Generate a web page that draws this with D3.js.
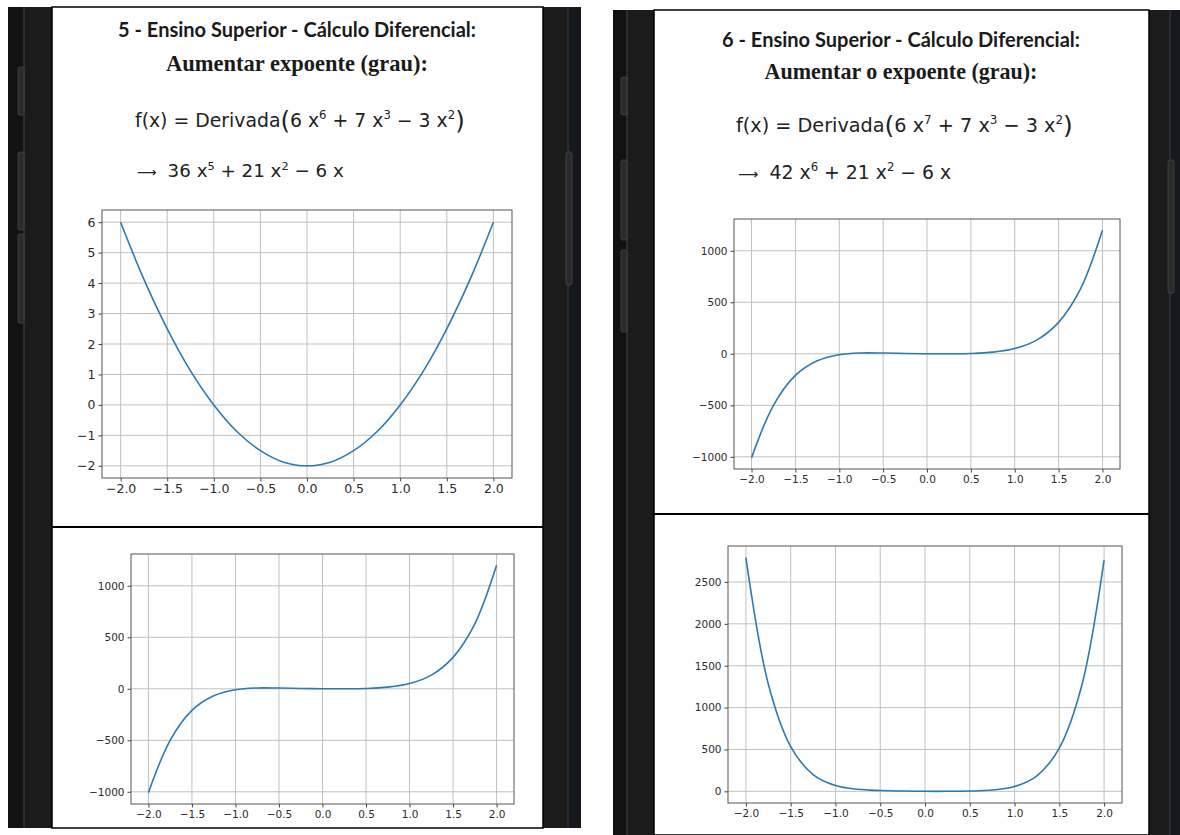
<!DOCTYPE html>
<html>
<head>
<meta charset="utf-8">
<script src="https://cdn.jsdelivr.net/npm/d3@7"></script>
<style>
  body { margin: 0; background: #fff; }
  svg { display: block; }
</style>
</head>
<body>
<svg id="tela" width="1180" height="835"></svg>
<script>
// valores
const xValues = [-2, -1.75, -1.5, -1.25, -1, -0.75, -0.5, -0.25, 0, 0.25, 0.5, 0.75, 1, 1.25, 1.5, 1.75, 2];
const xTicks = [-2, -1.5, -1, -0.5, 0, 0.5, 1, 1.5, 2];

const serieParabola = [6, 4.12, 2.5, 1.12, 0, -0.88, -1.5, -1.88, -2, -1.88, -1.5, -0.88, 0, 1.12, 2.5, 4.12, 6];
const serieGrau5 = [-1008, -500, -210, -68, -9, 8, 7, 3, 0, 0, 3, 16, 51, 133, 305, 630, 1198];
const serieGrau6 = [2790, 1281, 535, 200, 69, 24, 9, 3, 0, 0, 3, 15, 57, 185, 517, 1260, 2760];

const ticksParabola = [-2, -1, 0, 1, 2, 3, 4, 5, 6];
const ticksGrau5 = [-1000, -500, 0, 500, 1000];
const ticksGrau6 = [0, 500, 1000, 1500, 2000, 2500];

const titulos = ['5 - Ensino Superior - Cálculo Diferencial:', '6 - Ensino Superior - Cálculo Diferencial:'];
const subtitulos = ['Aumentar expoente (grau):', 'Aumentar o expoente (grau):'];
const expoenteEntrada = ['6', '7'];
const coefSaida = ['36', '42'];
const expoenteSaida = ['5', '6'];

const svg = d3.select('#tela');

// ---- aparelhos (moldura escura) ----
function drawPhone(o) {
  const g = svg.append('g');
  g.append('rect').attr('x', o.x0).attr('y', o.y0).attr('width', o.x1 - o.x0).attr('height', o.y1 - o.y0).attr('fill', '#1c1b1b');
  g.append('rect').attr('x', o.x0).attr('y', o.y0).attr('width', o.lineL - o.x0).attr('height', o.y1 - o.y0).attr('fill', '#121212');
  g.append('line').attr('x1', o.lineL).attr('x2', o.lineL).attr('y1', o.y0).attr('y2', o.y1).attr('stroke', '#3a3d42').attr('stroke-width', 1.2);
  g.append('rect').attr('x', o.lineR).attr('y', o.y0).attr('width', o.x1 - o.lineR).attr('height', o.y1 - o.y0).attr('fill', '#15191e');
  g.append('line').attr('x1', o.lineR).attr('x2', o.lineR).attr('y1', o.y0).attr('y2', o.y1).attr('stroke', '#34383e').attr('stroke-width', 1.2);
  o.botoesL.forEach(b => {
    g.append('rect').attr('x', o.lineL - 6).attr('y', b[0]).attr('width', 6).attr('height', b[1] - b[0])
      .attr('rx', 2).attr('fill', '#2a2a2b').attr('stroke', '#45474a').attr('stroke-width', 0.8);
  });
  o.botoesR.forEach(b => {
    g.append('rect').attr('x', o.lineR - 2).attr('y', b[0]).attr('width', 6).attr('height', b[1] - b[0])
      .attr('rx', 2).attr('fill', '#2a2a2b').attr('stroke', '#45474a').attr('stroke-width', 0.8);
  });
  g.append('rect').attr('x', o.sx0).attr('y', o.y0).attr('width', o.sx1 - o.sx0).attr('height', o.y1 - o.y0)
    .attr('fill', '#fff').attr('stroke', '#000').attr('stroke-width', 1.5);
  g.append('line').attr('x1', o.sx0).attr('x2', o.sx1).attr('y1', o.divY).attr('y2', o.divY)
    .attr('stroke', '#000').attr('stroke-width', 2.2);
}

drawPhone({ x0: 8, x1: 581, y0: 7, y1: 828, sx0: 52, sx1: 543, lineL: 24, lineR: 568, divY: 527,
  botoesL: [[67, 115], [152, 230], [234, 323]], botoesR: [[152, 285]] });
drawPhone({ x0: 613, x1: 1180, y0: 10, y1: 835, sx0: 654, sx1: 1149, lineL: 627, lineR: 1170, divY: 514,
  botoesL: [[77, 115], [160, 240], [250, 332]], botoesR: [[160, 293]] });

// ---- cabeçalhos ----
function fitWidth(sel, width) {
  const fs = parseFloat(sel.attr('font-size'));
  const w = sel.node().getComputedTextLength();
  sel.attr('font-size', fs * width / w);
}

function header(i, cx, left, ys, widths) {
  const t1 = svg.append('text').attr('x', cx).attr('y', ys[0]).attr('text-anchor', 'middle')
    .attr('font-family', 'Lato, "Open Sans", sans-serif').attr('font-weight', 700)
    .attr('font-size', 16).attr('fill', '#1a1a1a').text(titulos[i]);
  fitWidth(t1, widths[0]);

  const t2 = svg.append('text').attr('x', cx).attr('y', ys[1]).attr('text-anchor', 'middle')
    .attr('font-family', '"Liberation Serif", "DejaVu Serif", serif').attr('font-weight', 700)
    .attr('font-size', 22).attr('fill', '#1a1a1a').text(subtitulos[i]);
  fitWidth(t2, widths[1]);

  const t3 = svg.append('text').attr('x', left).attr('y', ys[2])
    .attr('font-family', '"DejaVu Sans", sans-serif').attr('font-size', 19).attr('fill', '#222');
  t3.append('tspan').text('f(x) = Derivada');
  t3.append('tspan').attr('font-size', '1.3em').attr('dy', '0.08em').text('(');
  t3.append('tspan').attr('dy', '-0.1em').text('6 x');
  t3.append('tspan').attr('font-size', '0.62em').attr('dy', '-0.65em').text(expoenteEntrada[i]);
  t3.append('tspan').attr('dy', '0.4em').text(' + 7 x');
  t3.append('tspan').attr('font-size', '0.62em').attr('dy', '-0.65em').text('3');
  t3.append('tspan').attr('dy', '0.4em').text(' − 3 x');
  t3.append('tspan').attr('font-size', '0.62em').attr('dy', '-0.65em').text('2');
  t3.append('tspan').attr('font-size', '1.3em').attr('dy', '0.4em').text(')');
  fitWidth(t3, widths[2]);

  const t4 = svg.append('text').attr('x', left + 2).attr('y', ys[3])
    .attr('font-family', '"DejaVu Sans", sans-serif').attr('font-size', 19).attr('fill', '#222');
  t4.append('tspan').attr('font-size', '0.75em').text('⟶');
  t4.append('tspan').attr('dx', '0.6em').text(coefSaida[i] + ' x');
  t4.append('tspan').attr('font-size', '0.62em').attr('dy', '-0.65em').text(expoenteSaida[i]);
  t4.append('tspan').attr('dy', '0.4em').text(' + 21 x');
  t4.append('tspan').attr('font-size', '0.62em').attr('dy', '-0.65em').text('2');
  t4.append('tspan').attr('dy', '0.4em').text(' − 6 x');
  fitWidth(t4, widths[3]);
}

header(0, 297, 135, [37, 71, 127, 177], [358, 262, 330, 196]);
header(1, 901, 736, [47, 79, 132, 179], [358, 273, 337, 202]);

// ---- gráficos ----
function drawChart(box, serie, yTicks, fontSize) {
  const [x0, y0, x1, y1] = box;
  const g = svg.append('g');
  const xExt = d3.extent(xValues), xPad = (xExt[1] - xExt[0]) * 0.05;
  const yExt = d3.extent(serie), yPad = (yExt[1] - yExt[0]) * 0.05;
  const x = d3.scaleLinear().domain([xExt[0] - xPad, xExt[1] + xPad]).range([x0, x1]);
  const y = d3.scaleLinear().domain([yExt[0] - yPad, yExt[1] + yPad]).range([y1, y0]);

  g.selectAll('.gx').data(xTicks).enter().append('line')
    .attr('x1', d => x(d)).attr('x2', d => x(d)).attr('y1', y0).attr('y2', y1)
    .attr('stroke', '#c0c0c0').attr('stroke-width', 1);
  g.selectAll('.gy').data(yTicks).enter().append('line')
    .attr('x1', x0).attr('x2', x1).attr('y1', d => y(d)).attr('y2', d => y(d))
    .attr('stroke', '#c0c0c0').attr('stroke-width', 1);

  const ax = g.append('g').attr('transform', `translate(0,${y1})`)
    .call(d3.axisBottom(x).tickValues(xTicks).tickSize(3.5).tickPadding(3).tickFormat(d3.format('.1f')));
  const ay = g.append('g').attr('transform', `translate(${x0},0)`)
    .call(d3.axisLeft(y).tickValues(yTicks).tickSize(3.5).tickPadding(3).tickFormat(d3.format('d')));
  [ax, ay].forEach(a => {
    a.select('.domain').remove();
    a.selectAll('line').attr('stroke', '#444');
    a.selectAll('text').attr('fill', '#2b2b2b').style('font-family', '"DejaVu Sans", sans-serif').style('font-size', fontSize + 'px');
  });

  g.append('rect').attr('x', x0).attr('y', y0).attr('width', x1 - x0).attr('height', y1 - y0)
    .attr('fill', 'none').attr('stroke', '#555').attr('stroke-width', 1);

  const line = d3.line().x((d, i) => x(xValues[i])).y(d => y(d)).curve(d3.curveCatmullRom.alpha(0.5));
  g.append('path').datum(serie).attr('d', line)
    .attr('fill', 'none').attr('stroke', '#2a7ab8').attr('stroke-width', 1.6);
}

drawChart([102, 210, 512, 478], serieParabola, ticksParabola, 12.5);
drawChart([734, 219, 1120, 469], serieGrau5, ticksGrau5, 10.5);
drawChart([131, 554, 514, 804], serieGrau5, ticksGrau5, 10.5);
drawChart([728, 546, 1122, 803], serieGrau6, ticksGrau6, 10.5);
</script>
</body>
</html>
